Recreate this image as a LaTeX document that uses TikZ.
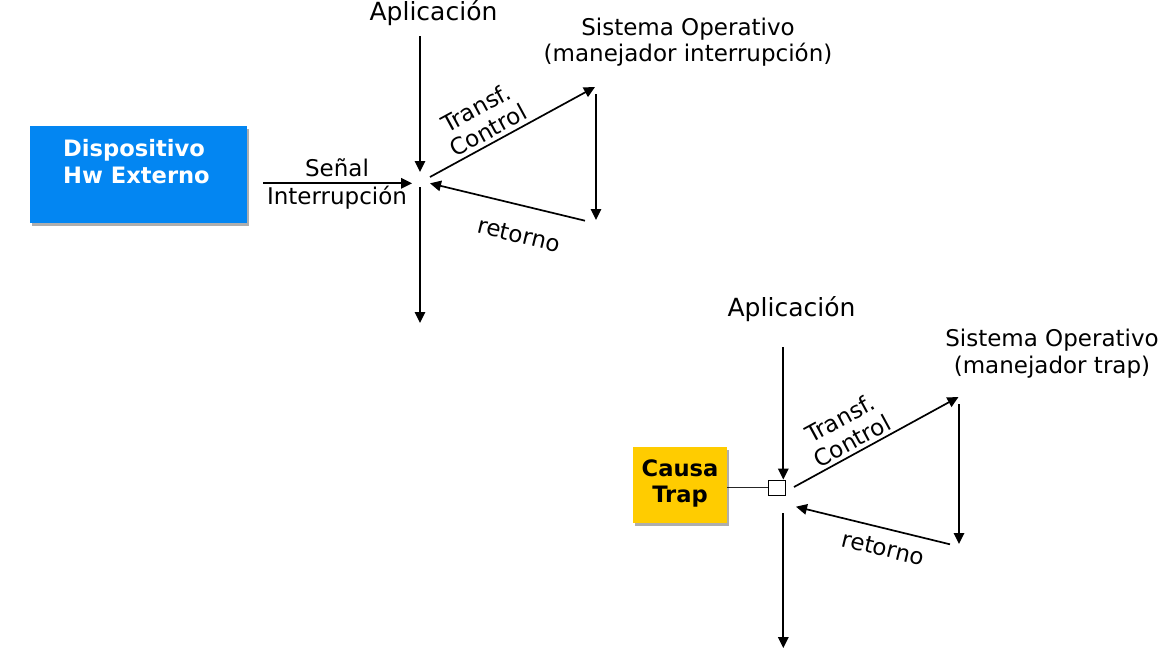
\documentclass[tikz,border=0pt]{standalone}
\usepackage{fontspec}
\setmainfont{DejaVu Sans}
\usetikzlibrary{arrows.meta,shadows}
\definecolor{hwblue}{RGB}{3,134,242}
\definecolor{trapyellow}{RGB}{255,204,0}
\begin{document}
\begin{tikzpicture}[x=1pt,y=-1pt,
  flow/.style={draw=black,line width=1.7pt,-{Triangle[length=11pt,width=10.5pt]}},
  lbl/.style={font=\fontsize{23}{26.5}\selectfont,inner sep=0pt,align=center,anchor=base},
  rlbl/.style={font=\fontsize{23}{25.5}\selectfont,inner sep=0pt,align=center},
  app/.style={font=\fontsize{25}{30}\selectfont,inner sep=0pt,anchor=base},
  boxtxt/.style={font=\bfseries\fontsize{22.6}{27}\selectfont,inner sep=0pt},
  shadowed/.style={drop shadow={shadow xshift=2pt,shadow yshift=-3pt,opacity=0.45,fill=black!70}},
  colbox/.style={draw=none,inner sep=0pt,shadowed}
]
\useasboundingbox (0,0) rectangle (1165,659);

% ---------- top diagram ----------
\node[colbox,fill=hwblue,minimum width=217pt,minimum height=97pt] (hw) at (138.5,174.5) {};
\node[boxtxt,text=white,align=left,anchor=base west] (hwtext) at (63,183) {Dispositivo\\Hw Externo};

\node[app] (app1) at (433.5,20.7) {Aplicación};
\node[lbl] (so1) at (688,61.5) {Sistema Operativo\\(manejador interrupción)};

\coordinate (a1top) at (420,36);
\coordinate (a1mid) at (420,172);
\coordinate (a1low) at (420,187);
\coordinate (a1bot) at (420,323);
\coordinate (sigS) at (263,183.3);
\coordinate (sigE) at (412,183.3);
\coordinate (tc1S) at (430,177);
\coordinate (tc1E) at (595,87);
\coordinate (os1T) at (596,94);
\coordinate (os1B) at (596,220);
\coordinate (rt1S) at (585,220.7);
\coordinate (rt1E) at (430,183.3);

\draw[flow] (a1top) -- (a1mid);
\draw[flow] (a1low) -- (a1bot);
\draw[flow] (sigS) -- (sigE);
\draw[flow] (tc1S) -- (tc1E);
\draw[flow] (os1T) -- (os1B);
\draw[flow] (rt1S) -- (rt1E);

\node[lbl,font=\fontsize{23}{27.5}\selectfont] (sig) at (337,204.3) {Señal\\Interrupción};
\node[rlbl,rotate=28.5] (tcl1) at (482,119) {Transf.\\Control};
\node[rlbl,rotate=-13.6] (ret1) at (519,235) {retorno};

% ---------- bottom diagram ----------
\node[colbox,fill=trapyellow,minimum width=94pt,minimum height=76pt] (trap) at (680,485) {};
\node[boxtxt,text=black,align=center,anchor=base,font=\bfseries\fontsize{22.6}{26}\selectfont] (traptext) at (680,502) {Causa\\Trap};

\node[draw=black,line width=1pt,fill=white,minimum width=17.5pt,minimum height=15pt,inner sep=0pt] (sq) at (777,487.5) {};
\draw[line width=0.9pt,black!85] (trap.east |- sq.west) -- (sq.west);

\node[app] (app2) at (791.5,316) {Aplicación};
\node[lbl] (so2) at (1052,373) {Sistema Operativo\\(manejador trap)};

\coordinate (a2top) at (783.3,347);
\coordinate (a2low) at (783.3,513);
\coordinate (a2bot) at (783.3,648);
\coordinate (tc2S) at (794,487);
\coordinate (tc2E) at (958.5,397);
\coordinate (os2T) at (959,404);
\coordinate (os2B) at (959,544);
\coordinate (rt2S) at (950,544.3);
\coordinate (rt2E) at (796,506.7);

\draw[flow] (a2top) -- (a2top |- sq.north);
\draw[flow] (a2low) -- (a2bot);
\draw[flow] (tc2S) -- (tc2E);
\draw[flow] (os2T) -- (os2B);
\draw[flow] (rt2S) -- (rt2E);

\node[rlbl,rotate=28.5] (tcl2) at (846,429.5) {Transf.\\Control};
\node[rlbl,rotate=-13.6] (ret2) at (883.3,548.3) {retorno};
\end{tikzpicture}
\end{document}
